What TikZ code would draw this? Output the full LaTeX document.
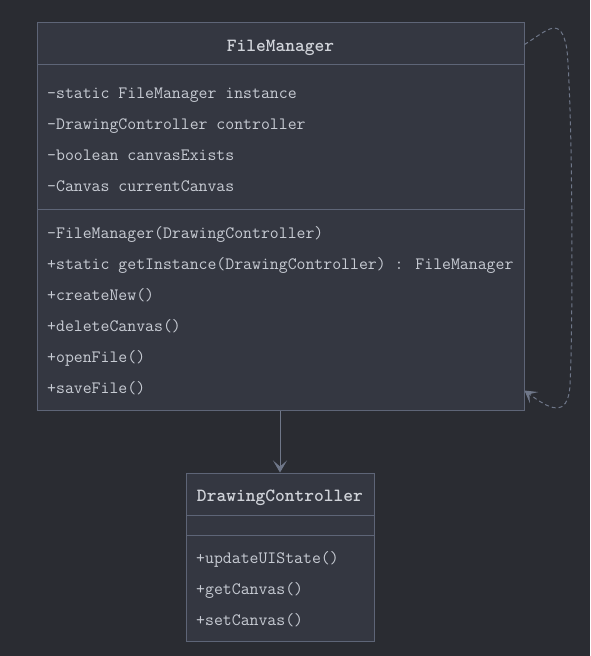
\documentclass[tikz,border=0pt]{standalone}
\usetikzlibrary{arrows.meta}
\definecolor{bgc}{HTML}{2A2C32}
\definecolor{boxfill}{HTML}{343741}
\definecolor{boxline}{HTML}{5E6577}
\definecolor{txt}{HTML}{C8CCD4}
\definecolor{ttl}{HTML}{D0D3D9}
\definecolor{arrc}{HTML}{6F7789}
\begin{document}
\begin{tikzpicture}[x=1pt,y=-1pt,
  umlbox/.style={draw=boxline, fill=boxfill, line width=1pt, rectangle, inner sep=0pt},
  member/.style={anchor=base west, inner sep=0pt, text=txt, font=\fontsize{17.3}{20}\selectfont\ttfamily},
  title/.style={anchor=base, inner sep=0pt, text=ttl, font=\fontsize{18.6}{22}\selectfont\ttfamily\bfseries},
  sep/.style={draw=boxline, line width=1pt},
  conn/.style={draw=arrc, line width=1pt},
  tip/.style={-{Stealth[length=12pt,width=14pt,inset=6pt]}}]
\fill[bgc] (0,0) rectangle (590,656);
\useasboundingbox (0,0) rectangle (590,656);
% FileManager
\node[umlbox, minimum width=487pt, minimum height=388pt] (fm) at (280.5,216) {};
\draw[sep] (37,64) -- (524,64);
\draw[sep] (37,209) -- (524,209);
\node[title] (fmt) at (280.5,51) {FileManager};
\node[member] (a1) at (47,98) {-static FileManager instance};
\node[member] (a2) at (47,129) {-DrawingController controller};
\node[member] (a3) at (47,160) {-boolean canvasExists};
\node[member] (a4) at (47,191) {-Canvas currentCanvas};
\node[member] (m1) at (47,238) {-FileManager(DrawingController)};
\node[member] (m2) at (47,269) {+static getInstance(DrawingController) : FileManager};
\node[member] (m3) at (47,300) {+createNew()};
\node[member] (m4) at (47,331) {+deleteCanvas()};
\node[member] (m5) at (47,362) {+openFile()};
\node[member] (m6) at (47,393) {+saveFile()};
% DrawingController
\node[umlbox, minimum width=188pt, minimum height=168pt] (dc) at (280,557) {};
\draw[sep] (186,515) -- (374,515);
\draw[sep] (186,535) -- (374,535);
\node[title] (dct) at (280,501) {DrawingController};
\node[member] (d1) at (196,563) {+updateUIState()};
\node[member] (d2) at (196,594) {+getCanvas()};
\node[member] (d3) at (196,625) {+setCanvas()};
% association
\draw[conn, tip] (fm.south -| dc.north) -- (dc.north);
% self loop
\coordinate (ls) at ([yshift=-23pt]fm.north east);
\coordinate (le) at ([yshift=20pt]fm.south east);
\draw[conn, tip, dash pattern=on 4pt off 3pt] (ls) .. controls (548,30) and (561,14) .. (567,50)
  .. controls (573,120) and (573,330) .. (570,385)
  .. controls (568,420) and (548,408) .. (le);
\end{tikzpicture}
\end{document}
